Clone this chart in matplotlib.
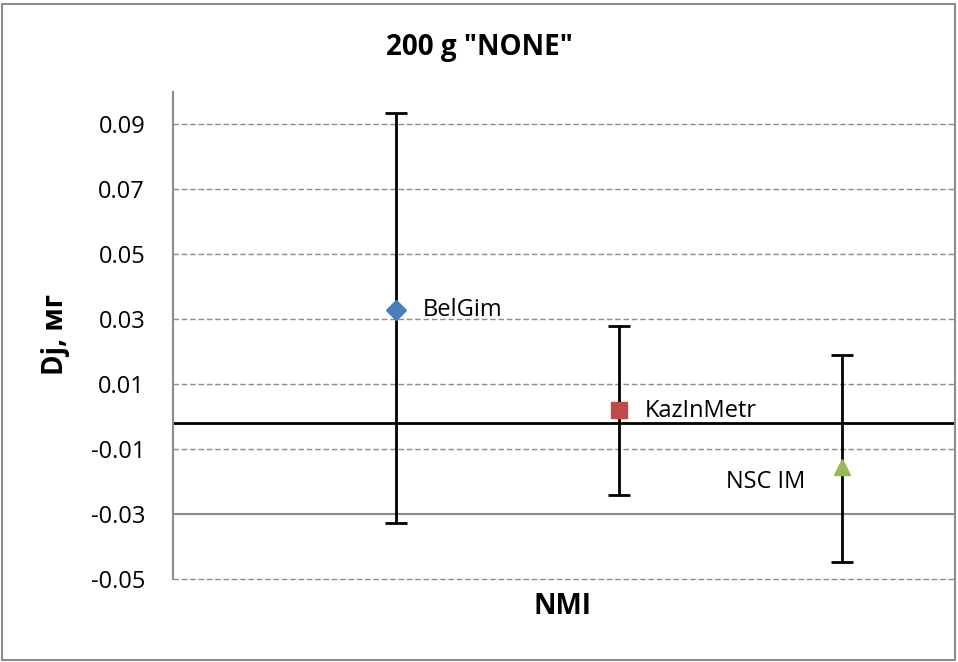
import numpy as np
import matplotlib
matplotlib.use("Agg")
import matplotlib.pyplot as plt
from matplotlib.patches import Rectangle

plt.rcParams['font.family'] = ['Open Sans', 'DejaVu Sans']

# data
names = ["BelGim", "KazInMetr", "NSC IM"]
xpos = [1, 2, 3]
dj = [0.0329, 0.0021, -0.0154]
err_hi = [0.0936, 0.0278, 0.0191]
err_lo = [-0.0326, -0.0242, -0.0449]
ref_level = -0.0019
yticks = [-0.05, -0.03, -0.01, 0.01, 0.03, 0.05, 0.07, 0.09]
markers = ["D", "s", "^"]
colors = ["#4a7ebb", "#be4b48", "#98b954"]

fig = plt.figure(figsize=(9.58, 6.62), dpi=100)
fig.patches.append(Rectangle((2/958, 2/662), 953/958, 656/662, transform=fig.transFigure,
                             fill=False, edgecolor="#8c8c8c", linewidth=1.5))
ax = fig.add_axes([173/958, 1-579/662, (954-173)/958, (579-92)/662])

ax.set_xlim(0, 3.5)
ax.set_ylim(-0.05, 0.1)
ax.set_yticks(yticks)
ax.set_yticklabels([f"{v:.2f}" for v in yticks], fontsize=17)
ax.set_xticks([])
for s in ["top", "right", "bottom"]:
    ax.spines[s].set_visible(False)
ax.spines["left"].set_color("#8c8c8c")
ax.spines["left"].set_linewidth(1.5)
ax.tick_params(axis="y", length=0, pad=20)

for v in yticks:
    if v == -0.03:
        ax.axhline(v, color="#8c8c8c", lw=1.5, zorder=1, clip_on=False)
    else:
        ax.axhline(v, color="#8c8c8c", lw=1.0, ls=(0, (4, 2)), zorder=1, clip_on=False)

ax.axhline(ref_level, color="black", lw=2, zorder=2, clip_on=False)

for i in range(3):
    lo = dj[i] - err_lo[i]
    hi = err_hi[i] - dj[i]
    ax.errorbar(xpos[i], dj[i], yerr=[[lo], [hi]], fmt="none", ecolor="black",
                elinewidth=2, capsize=8, capthick=2, zorder=3)
    ax.plot(xpos[i], dj[i], marker=markers[i], color=colors[i], ms=11 if i else 10,
            ls="none", zorder=4)

ax.annotate(names[0], (xpos[0], dj[0]), xytext=(19, 0), textcoords="offset points",
            fontsize=17, va="center", ha="left")
ax.annotate(names[1], (xpos[1], dj[1]), xytext=(18, -1), textcoords="offset points",
            fontsize=17, va="center", ha="left")
ax.annotate(names[2], (xpos[2], dj[2]), xytext=(-27, -11), textcoords="offset points",
            fontsize=17, va="center", ha="right")

fig.text(479/958, 1-48/662, '200 g "NONE"', fontsize=20, fontweight="bold",
         ha="center", va="center")
fig.text(563/958, 1-606/662, "NMI", fontsize=20, fontweight="bold", ha="center", va="center")
fig.text(55/958, 1-335/662, "Dj, мг", fontsize=20, fontweight="bold", rotation=90,
         ha="center", va="center")

fig.savefig("out.png", dpi=100)
